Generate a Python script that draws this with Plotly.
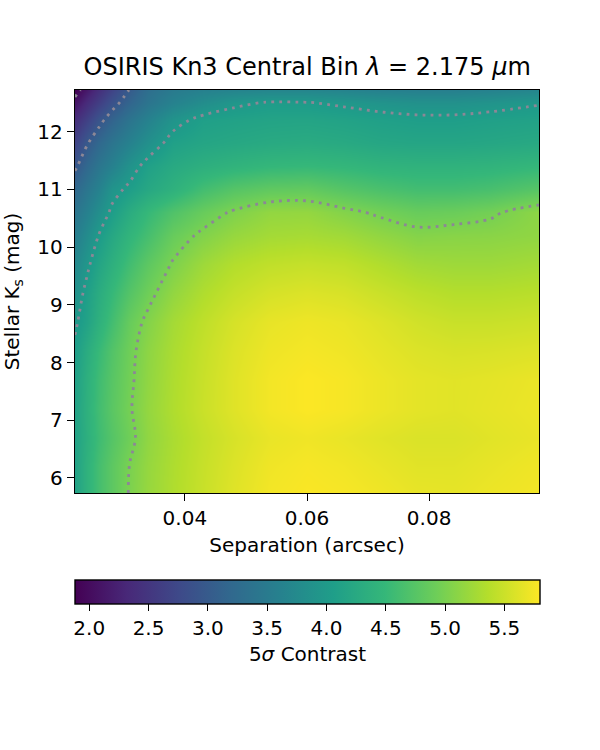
import plotly.graph_objects as go

# Separation (arcsec) grid nodes
sep = [0.022, 0.024, 0.026, 0.028, 0.031, 0.034, 0.038, 0.043, 0.048, 0.054,
       0.060, 0.066, 0.072, 0.078, 0.084, 0.090, 0.098]
# Stellar Ks magnitude grid nodes
kmag = [5.74, 6.2, 6.7, 7.2, 7.7, 8.2, 8.7, 9.2, 9.7, 10.2, 10.6, 11.0,
        11.4, 11.8, 12.2, 12.5, 12.72]

# 5-sigma contrast (rows follow kmag, columns follow sep)
row_574 = [4.12, 4.40, 4.62, 4.80, 5.02, 5.18, 5.33, 5.48, 5.62, 5.74, 5.78, 5.76, 5.72, 5.67, 5.66, 5.70, 5.74]
row_620 = [4.12, 4.40, 4.62, 4.80, 5.01, 5.17, 5.32, 5.47, 5.60, 5.72, 5.76, 5.73, 5.68, 5.63, 5.63, 5.67, 5.72]
row_670 = [4.12, 4.36, 4.57, 4.74, 4.94, 5.14, 5.30, 5.45, 5.57, 5.68, 5.72, 5.68, 5.63, 5.59, 5.59, 5.63, 5.68]
row_720 = [4.12, 4.38, 4.60, 4.78, 4.98, 5.16, 5.33, 5.49, 5.62, 5.74, 5.79, 5.76, 5.70, 5.65, 5.63, 5.66, 5.70]
row_770 = [4.10, 4.36, 4.58, 4.76, 4.96, 5.14, 5.32, 5.48, 5.62, 5.74, 5.79, 5.76, 5.70, 5.65, 5.63, 5.65, 5.69]
row_820 = [4.05, 4.30, 4.52, 4.72, 4.94, 5.12, 5.30, 5.46, 5.60, 5.71, 5.75, 5.72, 5.66, 5.60, 5.57, 5.58, 5.61]
row_870 = [3.96, 4.14, 4.38, 4.60, 4.88, 5.06, 5.26, 5.42, 5.56, 5.67, 5.71, 5.68, 5.61, 5.53, 5.48, 5.48, 5.51]
row_920 = [3.85, 4.08, 4.30, 4.50, 4.74, 4.93, 5.15, 5.33, 5.46, 5.56, 5.60, 5.57, 5.49, 5.41, 5.36, 5.36, 5.39]
row_970 = [3.72, 3.95, 4.17, 4.36, 4.60, 4.80, 5.02, 5.22, 5.35, 5.43, 5.46, 5.43, 5.34, 5.25, 5.22, 5.22, 5.26]
row_1020 = [3.55, 3.78, 4.02, 4.22, 4.45, 4.63, 4.88, 5.05, 5.18, 5.26, 5.28, 5.24, 5.15, 5.07, 5.09, 5.10, 5.14]
row_1060 = [3.40, 3.60, 3.82, 4.05, 4.30, 4.50, 4.70, 4.88, 5.03, 5.15, 5.16, 5.06, 4.96, 4.88, 4.90, 4.96, 5.12]
row_1100 = [3.20, 3.42, 3.62, 3.90, 4.06, 4.22, 4.38, 4.60, 4.74, 4.82, 4.84, 4.74, 4.66, 4.60, 4.60, 4.64, 4.75]
row_1140 = [2.95, 3.20, 3.42, 3.60, 3.88, 4.10, 4.25, 4.35, 4.42, 4.48, 4.50, 4.47, 4.42, 4.40, 4.40, 4.42, 4.48]
row_1180 = [2.68, 2.98, 3.20, 3.40, 3.62, 3.84, 4.10, 4.18, 4.22, 4.26, 4.28, 4.25, 4.20, 4.18, 4.18, 4.20, 4.24]
row_1220 = [2.40, 2.65, 2.92, 3.13, 3.40, 3.62, 3.90, 4.08, 4.12, 4.15, 4.16, 4.13, 4.09, 4.06, 4.06, 4.09, 4.12]
row_1250 = [2.10, 2.38, 2.62, 2.88, 3.16, 3.40, 3.62, 3.80, 3.95, 4.02, 4.01, 3.96, 3.90, 3.86, 3.86, 3.90, 3.98]
row_1272 = [1.88, 2.15, 2.42, 2.68, 3.02, 3.30, 3.50, 3.60, 3.65, 3.68, 3.68, 3.65, 3.60, 3.58, 3.58, 3.62, 3.68]

contrast = [row_574, row_620, row_670, row_720, row_770, row_820, row_870, row_920,
            row_970, row_1020, row_1060, row_1100, row_1140, row_1180, row_1220,
            row_1250, row_1272]

contour_levels = [2, 3, 4, 5]
cbar_ticks = [2.0, 2.5, 3.0, 3.5, 4.0, 4.5, 5.0, 5.5]
x_ticks = [0.04, 0.06, 0.08]
y_ticks = [6, 7, 8, 9, 10, 11, 12]

FONT = "DejaVu Sans"

fig = go.Figure()
fig.add_trace(go.Heatmap(
    x=sep, y=kmag, z=contrast,
    colorscale="Viridis", zmin=1.88, zmax=5.80, zsmooth="best",
    colorbar=dict(
        orientation="h", x=0, xanchor="left", y=-0.2159, yanchor="top",
        len=465, lenmode="pixels", thickness=24, thicknessmode="pixels",
        xpad=0, ypad=0, outlinecolor="black", outlinewidth=1.4,
        ticks="outside", ticklen=7, tickwidth=1.4, tickcolor="black",
        tickvals=cbar_ticks, tickformat=".1f",
        tickfont=dict(family=FONT, size=20, color="black"),
        title=dict(text="5<i>σ</i> Contrast", side="bottom",
                   font=dict(family=FONT, size=20, color="black")),
    ),
    hoverinfo="skip",
))
fig.add_trace(go.Contour(
    x=sep, y=kmag, z=contrast,
    contours=dict(coloring="none", start=contour_levels[0], end=contour_levels[-1], size=1),
    line=dict(color="rgb(140,135,150)", width=2.8, dash="2.8px,5.2px", smoothing=1),
    showscale=False, hoverinfo="skip",
))

axis_common = dict(
    ticks="outside", ticklen=7, tickwidth=1.4, tickcolor="black",
    showline=True, linecolor="black", linewidth=1.4, mirror=True,
    showgrid=False, zeroline=False,
    tickfont=dict(family=FONT, size=20, color="black"),
)
fig.update_layout(
    width=600, height=750,
    margin=dict(l=75, r=61, t=90, b=257),
    paper_bgcolor="white", plot_bgcolor="white",
    font=dict(family=FONT, size=20, color="black"),
    title=dict(text="OSIRIS Kn3 Central Bin <i>λ</i> = 2.175 <i>μ</i>m",
               x=0.512, xanchor="center", y=0.9107, yanchor="middle",
               font=dict(family=FONT, size=24, color="black")),
    xaxis=dict(range=[0.022, 0.098], tickvals=x_ticks,
               ticktext=["%.2f" % v for v in x_ticks],
               title=dict(text="Separation (arcsec)", standoff=8,
                          font=dict(family=FONT, size=20)),
               **axis_common),
    yaxis=dict(range=[5.74, 12.72], tickvals=y_ticks,
               title=dict(text="Stellar K<sub>s</sub> (mag)", standoff=12,
                          font=dict(family=FONT, size=20)),
               **axis_common),
)
fig.write_html("out.html")
